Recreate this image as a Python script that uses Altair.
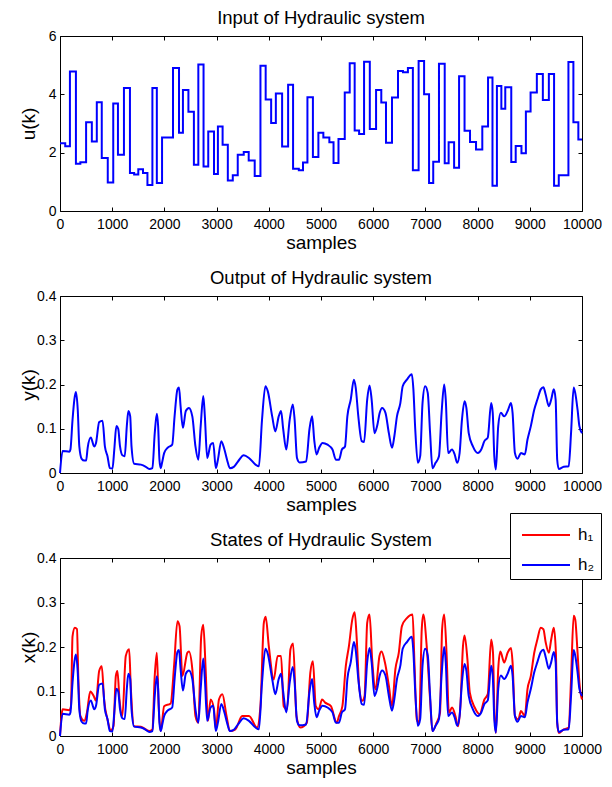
import altair as alt
import pandas as pd

FONT = "Liberation Sans"

# ---- input u(k): step start sample and level ----
u_t = [0, 100, 190, 305, 390, 500, 610, 705, 800, 915, 1020, 1110, 1225, 1340, 1420,
       1500, 1590, 1675, 1770, 1855, 1955, 2165, 2280, 2355, 2460, 2565, 2650, 2750,
       2840, 2950, 3025, 3115, 3215, 3310, 3405, 3520, 3615, 3730, 3840, 3940, 4045,
       4135, 4255, 4370, 4465, 4575, 4655, 4740, 4845, 4950, 5045, 5160, 5240, 5335,
       5455, 5550, 5645, 5730, 5825, 5935, 6055, 6155, 6245, 6360, 6475, 6570, 6665,
       6760, 6870, 6975, 7070, 7150, 7260, 7370, 7445, 7550, 7645, 7750, 7855, 7970,
       8090, 8200, 8285, 8370, 8455, 8530, 8645, 8730, 8840, 8925, 9015, 9135, 9250,
       9365, 9465, 9555, 9740, 9835, 9930, 10000]
u_v = [2.32, 2.22, 4.78, 1.62, 1.67, 3.04, 2.38, 3.73, 1.82, 0.98, 3.69, 1.93, 4.22, 1.30, 1.25,
       1.43, 1.30, 0.89, 4.22, 0.96, 2.52, 4.90, 2.68, 4.15, 3.40, 1.59, 5.02, 1.53,
       2.73, 1.27, 2.90, 2.27, 1.05, 1.23, 1.93, 2.02, 1.73, 1.20, 4.98, 3.82, 3.02,
       4.03, 2.21, 4.33, 1.45, 1.40, 1.66, 3.90, 1.85, 2.68, 2.52, 2.36, 1.65, 2.47,
       4.06, 5.07, 2.76, 2.64, 5.12, 2.81, 4.15, 3.72, 2.34, 3.89, 4.80, 4.76, 4.90,
       1.40, 5.14, 4.00, 0.96, 1.69, 5.05, 1.64, 2.36, 1.48, 4.62, 2.75, 2.37, 2.11,
       2.90, 4.58, 0.87, 4.29, 3.51, 4.24, 1.68, 2.23, 1.98, 3.41, 4.06, 4.70, 3.81,
       4.70, 0.87, 1.23, 5.11, 3.04, 2.45, 2.45]

# ---- h2 = y(k) ----
h2_t = [0, 50, 180, 200, 240, 275, 305, 340, 370, 415, 465, 500, 530, 590, 655, 690, 750, 815,
        860, 910, 955, 1005, 1040, 1080, 1115, 1150, 1195, 1240, 1280, 1310, 1345, 1370, 1420,
        1550, 1645, 1710, 1770, 1815, 1855, 1880, 1905, 1930, 1955, 1995, 2060, 2150, 2195,
        2250, 2280, 2310, 2355, 2410, 2470, 2535, 2595, 2650, 2695, 2745, 2775, 2820, 2885,
        2935, 2985, 3025, 3090, 3150, 3200, 3255, 3330, 3410, 3520, 3620, 3745, 3810, 3870,
        3935, 3980, 4065, 4125, 4190, 4235, 4275, 4335, 4400, 4460, 4495, 4540, 4590, 4715,
        4780, 4830, 4870, 4915, 4965, 5030, 5125, 5220, 5285, 5345, 5400, 5460, 5505, 5570,
        5630, 5665, 5715, 5780, 5825, 5885, 5930, 5970, 6025, 6075, 6125, 6170, 6235, 6300,
        6360, 6405, 6455, 6520, 6565, 6645, 6740, 6770, 6805, 6855, 6900, 6945, 6995, 7045,
        7090, 7135, 7195, 7260, 7310, 7360, 7390, 7435, 7510, 7560, 7610, 7655, 7700, 7750,
        7785, 7830, 7910, 8005, 8070, 8130, 8195, 8260, 8290, 8320, 8350, 8395, 8445, 8510,
        8575, 8640, 8670, 8715, 8765, 8830, 8905, 8955, 9020, 9085, 9145, 9210, 9260, 9305,
        9365, 9410, 9460, 9495, 9525, 9555, 9650, 9745, 9790, 9840, 9870, 9915, 9950, 10000]
h2_v = [0.0, 0.05, 0.048, 0.053, 0.12, 0.166, 0.183, 0.143, 0.06, 0.032, 0.028, 0.028, 0.057, 0.08,
        0.06, 0.068, 0.115, 0.118, 0.06, 0.038, 0.011, 0.01, 0.053, 0.106, 0.1, 0.06, 0.04, 0.038,
        0.106, 0.14, 0.128, 0.06, 0.021, 0.019, 0.014, 0.009, 0.011, 0.09, 0.134, 0.106, 0.03,
        0.011, 0.023, 0.045, 0.057, 0.064, 0.128, 0.189, 0.193, 0.151, 0.102, 0.14, 0.147, 0.128,
        0.06, 0.03, 0.106, 0.174, 0.128, 0.034, 0.064, 0.068, 0.011, 0.03, 0.072, 0.053, 0.03,
        0.011, 0.014, 0.026, 0.04, 0.034, 0.019, 0.015, 0.12, 0.196, 0.185, 0.128, 0.094, 0.128,
        0.14, 0.1, 0.053, 0.12, 0.155, 0.12, 0.034, 0.024, 0.026, 0.1, 0.128, 0.075, 0.042, 0.057,
        0.068, 0.064, 0.053, 0.03, 0.03, 0.053, 0.06, 0.128, 0.166, 0.211, 0.193, 0.128, 0.072,
        0.07, 0.166, 0.198, 0.166, 0.09, 0.106, 0.136, 0.147, 0.136, 0.09, 0.057, 0.083, 0.128,
        0.158, 0.196, 0.211, 0.223, 0.189, 0.1, 0.023, 0.038, 0.158, 0.196, 0.181, 0.09, 0.011,
        0.023, 0.038, 0.136, 0.2, 0.166, 0.045, 0.053, 0.042, 0.023, 0.045, 0.12, 0.162, 0.147,
        0.09, 0.06, 0.045, 0.053, 0.072, 0.08, 0.158, 0.136, 0.038, 0.008, 0.106, 0.136, 0.128,
        0.14, 0.158, 0.136, 0.045, 0.032, 0.045, 0.042, 0.075, 0.106, 0.143, 0.166, 0.189, 0.194,
        0.177, 0.151, 0.166, 0.189, 0.166, 0.03, 0.009, 0.014, 0.015, 0.09, 0.193, 0.181, 0.143,
        0.106, 0.09]

# ---- h1 ----
h1_t = [0, 50, 180, 210, 240, 285, 325, 350, 390, 465, 515, 580, 645, 690, 750, 800, 845, 910,
        975, 1025, 1070, 1100, 1140, 1195, 1260, 1325, 1355, 1420, 1550, 1710, 1770, 1815, 1855,
        1890, 1930, 1995, 2120, 2185, 2250, 2290, 2345, 2440, 2470, 2535, 2595, 2650, 2705, 2745,
        2790, 2835, 2885, 2950, 2985, 3045, 3110, 3190, 3255, 3360, 3490, 3620, 3775, 3840, 3905,
        3940, 4000, 4095, 4170, 4235, 4285, 4350, 4415, 4465, 4530, 4605, 4730, 4795, 4845, 4900,
        4955, 5020, 5080, 5190, 5300, 5345, 5410, 5475, 5535, 5600, 5645, 5685, 5730, 5790, 5835,
        5885, 5930, 5980, 6045, 6120, 6160, 6225, 6300, 6360, 6425, 6490, 6550, 6645, 6755, 6790,
        6835, 6880, 6930, 6960, 7025, 7090, 7135, 7215, 7280, 7320, 7360, 7405, 7450, 7510, 7575,
        7625, 7670, 7720, 7750, 7805, 7850, 7945, 8040, 8130, 8195, 8260, 8295, 8320, 8350, 8395,
        8435, 8510, 8575, 8640, 8670, 8715, 8780, 8830, 8905, 8955, 9020, 9085, 9145, 9210, 9260,
        9305, 9365, 9410, 9460, 9500, 9525, 9555, 9650, 9745, 9790, 9840, 9870, 9915, 9950, 10000]
h1_v = [0.0, 0.06, 0.058, 0.067, 0.224, 0.243, 0.24, 0.135, 0.045, 0.034, 0.052, 0.1, 0.09, 0.079,
        0.146, 0.157, 0.082, 0.037, 0.013, 0.022, 0.135, 0.146, 0.082, 0.045, 0.18, 0.195, 0.113,
        0.022, 0.021, 0.011, 0.015, 0.135, 0.187, 0.067, 0.011, 0.067, 0.073, 0.157, 0.258, 0.247,
        0.135, 0.187, 0.19, 0.15, 0.045, 0.03, 0.224, 0.25, 0.15, 0.034, 0.082, 0.06, 0.015, 0.082,
        0.094, 0.045, 0.011, 0.015, 0.045, 0.045, 0.019, 0.067, 0.254, 0.268, 0.202, 0.127, 0.18,
        0.18, 0.067, 0.06, 0.195, 0.208, 0.045, 0.019, 0.03, 0.142, 0.168, 0.067, 0.06, 0.082,
        0.075, 0.067, 0.03, 0.045, 0.067, 0.157, 0.202, 0.262, 0.278, 0.217, 0.113, 0.079, 0.09,
        0.254, 0.273, 0.172, 0.105, 0.18, 0.19, 0.165, 0.113, 0.067, 0.15, 0.187, 0.247, 0.265,
        0.273, 0.165, 0.037, 0.03, 0.24, 0.273, 0.202, 0.082, 0.011, 0.03, 0.052, 0.24, 0.273,
        0.187, 0.052, 0.064, 0.045, 0.022, 0.067, 0.202, 0.226, 0.172, 0.098, 0.064, 0.049, 0.082,
        0.094, 0.217, 0.187, 0.06, 0.007, 0.15, 0.19, 0.165, 0.187, 0.198, 0.165, 0.045, 0.037,
        0.056, 0.045, 0.105, 0.135, 0.187, 0.217, 0.243, 0.24, 0.21, 0.187, 0.217, 0.243, 0.187,
        0.03, 0.007, 0.015, 0.019, 0.127, 0.27, 0.262, 0.187, 0.12, 0.082]

X_TICKS = [0, 1000, 2000, 3000, 4000, 5000, 6000, 7000, 8000, 9000, 10000]
U_TICKS = [0, 2, 4, 6]
Y_TICKS = [0, 0.1, 0.2, 0.3, 0.4]
SERIES = ["h\u2081", "h\u2082"]

df_u = pd.DataFrame({"t": u_t, "v": u_v})
df_y = pd.DataFrame({"t": h2_t, "v": h2_v})
df_x = pd.concat([
    pd.DataFrame({"t": h1_t, "v": h1_v, "s": SERIES[0]}),
    pd.DataFrame({"t": h2_t, "v": h2_v, "s": SERIES[1]}),
], ignore_index=True)

W = 522
XSCALE = alt.Scale(domain=[0, 10000], nice=False, zero=False)


def x_enc(orient):
    if orient == "bottom":
        ax = alt.Axis(orient="bottom", values=X_TICKS, format="d", offset=-4, tickSize=4,
                      domain=False, grid=False, labelPadding=6, labelFlush=False,
                      labelOverlap=False, title="samples", titlePadding=2)
    else:
        ax = alt.Axis(orient="top", values=X_TICKS, offset=-4, tickSize=4,
                      domain=False, grid=False, labels=False, title=None)
    return alt.X("t:Q", scale=XSCALE, axis=ax)


def y_enc(orient, dom, vals, fmt, title):
    sc = alt.Scale(domain=dom, nice=False, zero=False)
    if orient == "left":
        ax = alt.Axis(orient="left", values=vals, format=fmt, offset=-4, tickSize=4,
                      domain=False, grid=False, labelPadding=4, labelFlush=False,
                      labelOverlap=False, title=title, titleX=-26)
    else:
        ax = alt.Axis(orient="right", values=vals, offset=-4, tickSize=4,
                      domain=False, grid=False, labels=False, title=None)
    return alt.Y("v:Q", scale=sc, axis=ax)


def title_p(text):
    return alt.TitleParams(text=text, fontSize=18.5, fontWeight="normal", font=FONT,
                           offset=2, anchor="middle", color="black")


def frame(main, df, dom, vals, fmt, ytitle, title, h):
    aux = alt.Chart(df).mark_line(opacity=0).encode(
        x=x_enc("top"), y=y_enc("right", dom, vals, fmt, ytitle))
    return alt.layer(main, aux).resolve_axis(x="independent", y="independent").properties(
        width=W, height=h, title=title_p(title))


p1_main = alt.Chart(df_u).mark_line(interpolate="step-after", color="#0000ff", strokeWidth=2).encode(
    x=x_enc("bottom"), y=y_enc("left", [0, 6], U_TICKS, "d", "u(k)"))
p1 = frame(p1_main, df_u, [0, 6], U_TICKS, "d", "u(k)", "Input of Hydraulic system", 175)

p2_main = alt.Chart(df_y).mark_line(color="#0000ff", strokeWidth=2, interpolate="monotone").encode(
    x=x_enc("bottom"), y=y_enc("left", [0, 0.4], Y_TICKS, ".1~f", "y(k)"))
p2 = frame(p2_main, df_y, [0, 0.4], Y_TICKS, ".1~f", "y(k)", "Output of Hydraulic system", 177)

p3_main = alt.Chart(df_x).mark_line(strokeWidth=2, interpolate="monotone").encode(
    x=x_enc("bottom"), y=y_enc("left", [0, 0.4], Y_TICKS, ".1~f", "x(k)"),
    color=alt.Color("s:N", scale=alt.Scale(domain=SERIES, range=["#ff0000", "#0000ff"]),
                    legend=alt.Legend(orient="none", legendX=450, legendY=477, title=None,
                                      symbolType="M-1,0L2.2,0", symbolSize=900,
                                      symbolOffset=5, symbolStrokeWidth=2,
                                      labelFontSize=17, labelFont=FONT,
                                      labelColor="black", labelOffset=25,
                                      strokeColor="black", fillColor="white", padding=6,
                                      rowPadding=6)))
p3 = frame(p3_main, df_x, [0, 0.4], Y_TICKS, ".1~f", "x(k)", "States of Hydraulic System", 178)

chart = alt.vconcat(p1, p2, p3, spacing=85, bounds="flush").properties(
    padding={"left": 10, "top": 0, "right": 0, "bottom": 0}, background="white"
).configure_axis(
    labelFont=FONT, labelFontSize=14, labelColor="black",
    titleFont=FONT, titleFontSize=19, titleFontWeight="normal", titleColor="black",
    tickColor="black", tickWidth=1
).configure_view(stroke="black", strokeWidth=1, fill="white")

chart.save("out.html", embed_options={"renderer": "svg", "actions": False})
